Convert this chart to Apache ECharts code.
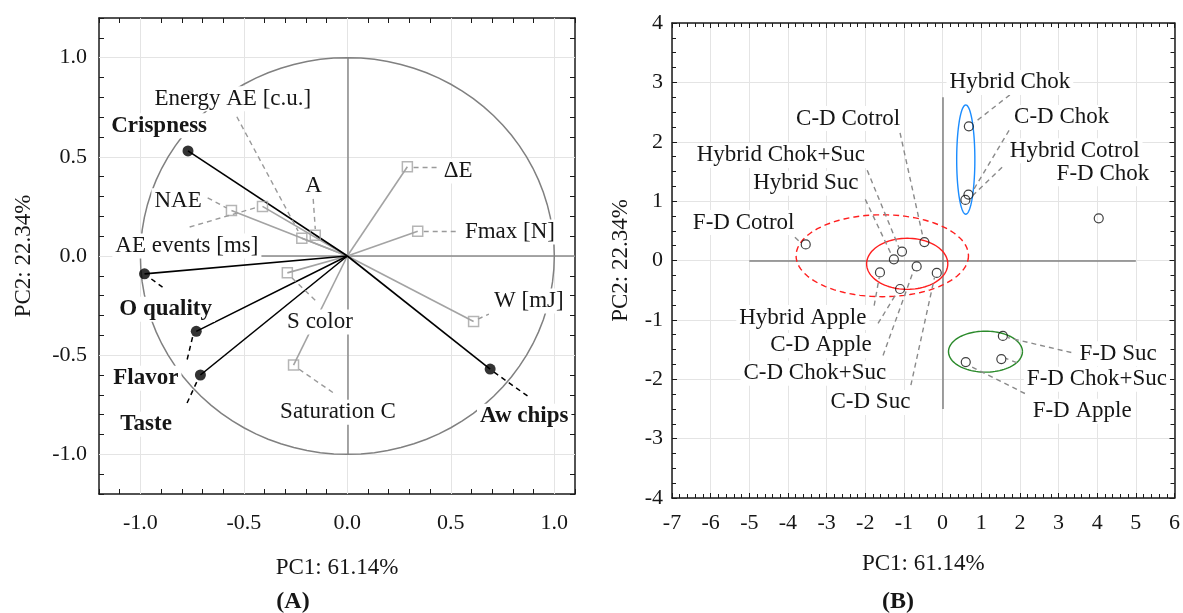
<!DOCTYPE html>
<html>
<head>
<meta charset="utf-8">
<script src="https://cdn.jsdelivr.net/npm/echarts@6/dist/echarts.min.js"></script>
<style>
  html, body { margin: 0; background: #fff; }
  #chart { width: 1183px; height: 613px; }
</style>
</head>
<body>
<div id="chart"></div>
<script>
// ---- (A) loadings: sensory attributes (black) ----
const sensoryNames = ['Crispness', 'O quality', 'Flavor', 'Taste', 'Aw chips']
const sensoryPC1 = [-0.77, -0.98, -0.73, -0.71, 0.69]
const sensoryPC2 = [0.53, -0.09, -0.38, -0.60, -0.57]

// ---- (A) loadings: instrumental attributes (grey) ----
const instrNames = ['Energy AE [c.u.]', 'A', 'ΔE', 'NAE', 'Fmax [N]', 'AE events [ms]', 'S color', 'W [mJ]', 'Saturation C']
const instrPC1 = [-0.22, -0.155, 0.29, -0.56, 0.34, -0.41, -0.29, 0.61, -0.26]
const instrPC2 = [0.09, 0.105, 0.45, 0.23, 0.125, 0.25, -0.085, -0.33, -0.55]

// label anchors (text start, middle) in PC units
const sensoryLabelX = [-1.141, -1.102, -1.131, -1.097, 0.641]
const sensoryLabelY = [0.657, -0.268, -0.616, -0.848, -0.808]
const instrLabelX = [-0.932, -0.204, 0.466, -0.932, 0.568, -1.121, -0.291, 0.709, -0.325]
const instrLabelY = [0.793, 0.354, 0.429, 0.278, 0.121, 0.051, -0.333, -0.227, -0.788]

// dashed leaders [x1, y1, x2, y2]
const sensoryLeaders = [
  null,
  [-0.947, -0.116, -0.893, -0.157],
  [-0.748, -0.409, -0.777, -0.535],
  [-0.728, -0.636, -0.777, -0.747],
  [0.709, -0.586, 0.879, -0.712],
]
const instrLeaders = [
  [-0.534, 0.702, -0.238, 0.126],
  [-0.165, 0.288, -0.155, 0.136],
  [0.320, 0.449, 0.437, 0.449],
  [-0.675, 0.293, -0.583, 0.242],
  [0.369, 0.126, 0.539, 0.126],
  [-0.762, 0.146, -0.432, 0.247],
  [-0.267, -0.111, -0.146, -0.232],
  [0.631, -0.318, 0.684, -0.293],
  [-0.233, -0.571, -0.058, -0.697],
]
const gridA = [-1, -0.5, 0, 0.5, 1]

// ---- (B) scores ----
const samples = ['F-D Cotrol', 'Hybrid Suc', 'Hybrid Chok+Suc', 'C-D Cotrol', 'C-D Chok+Suc', 'C-D Suc',
  'Hybrid Apple', 'C-D Apple', 'Hybrid Chok', 'C-D Chok', 'Hybrid Cotrol', 'F-D Chok',
  'F-D Suc', 'F-D Chok+Suc', 'F-D Apple']
const scorePC1 = [-3.54, -1.26, -1.05, -0.47, -0.67, -0.15, -1.62, -1.10, 0.68, 0.67, 0.59, 4.04, 1.56, 1.52, 0.60]
const scorePC2 = [0.27, 0.02, 0.15, 0.31, -0.10, -0.21, -0.20, -0.48, 2.26, 1.11, 1.02, 0.71, -1.27, -1.66, -1.71]

const sampleLabelX = [-6.46, -4.90, -6.36, -3.79, -5.15, -2.90, -5.26, -4.46, 0.18, 1.85, 1.74, 2.95, 3.54, 2.18, 2.33]
const sampleLabelY = [0.64, 1.30, 1.77, 2.39, -1.90, -2.39, -0.96, -1.43, 3.00, 2.41, 1.85, 1.46, -1.57, -2.00, -2.54]
const sampleLeaders = [
  [-3.82, 0.39, -3.67, 0.30],
  [-2.00, 1.03, -1.31, 0.08],
  [-1.95, 1.52, -1.13, 0.22],
  [-1.10, 2.15, -0.51, 0.40],
  [-1.54, -1.60, -0.74, -0.15],
  [-0.82, -2.10, -0.21, -0.29],
  [-1.77, -0.76, -1.64, -0.29],
  [-1.67, -1.06, -1.18, -0.54],
  [1.74, 2.79, 0.82, 2.32],
  [1.72, 2.19, 0.79, 1.18],
  [1.54, 1.57, 0.77, 1.09],
  null,
  [3.33, -1.55, 1.69, -1.30],
  [1.92, -1.72, 1.64, -1.65],
  [2.13, -2.24, 0.72, -1.78],
]

// group ellipses: centre x, centre y, radius x, radius y
const ellipseCX = [-0.915, -1.56, 0.60, 1.11]
const ellipseCY = [-0.056, 0.08, 1.70, -1.535]
const ellipseRX = [1.05, 2.23, 0.235, 0.957]
const ellipseRY = [0.43, 0.69, 0.92, 0.345]
const ellipseColor = ['#ff1f1f', '#ff1f1f', '#1a8cff', '#2b8a2b']
const ellipseDashed = [false, true, false, false]

const FONT = '"Liberation Serif", "Times New Roman", serif'
const INK = '#161616'
const chart = echarts.init(document.getElementById('chart'))

const leaderCoords = (list) => list.filter(Boolean).map((l) => [[l[0], l[1]], [l[2], l[3]]])

const halfStep = (v) => Math.abs(v * 2 - Math.round(v * 2)) < 1e-6

const textSeries = (names, xs, ys, axis, weight) => ({
  type: 'custom',
  xAxisIndex: axis,
  yAxisIndex: axis,
  z: 10,
  silent: true,
  clip: false,
  data: names.map((_, i) => [xs[i], ys[i]]),
  renderItem: (params, api) => {
    const p = api.coord([api.value(0), api.value(1)])
    return {
      type: 'text',
      x: p[0] - 3,
      y: p[1],
      style: {
        text: names[params.dataIndex],
        font: `${weight} 23px ${FONT}`,
        fill: INK,
        align: 'left',
        verticalAlign: 'middle',
        backgroundColor: '#fff',
        padding: [1, 3],
      },
    }
  },
})

const ringPoints = (c, s) => {
  const pts = []
  for (let i = 0; i <= 96; i += 1) {
    const a = (i / 96) * Math.PI * 2
    pts.push([c[0] + s[0] * Math.cos(a), c[1] + s[1] * Math.sin(a)])
  }
  return pts
}

const axisBase = {
  axisLine: { onZero: false, lineStyle: { color: '#1a1a1a', width: 1.5 } },
  axisTick: { inside: true, length: 5, lineStyle: { color: '#1a1a1a', width: 1 } },
  splitLine: { show: false },
}
const labelStyle = { color: INK, fontFamily: FONT, fontSize: 22 }

const xA = { min: -1.2, max: 1.1, interval: 0.1 }
const yA = { min: -1.2, max: 1.2, interval: 0.1 }
const xB = { min: -7, max: 6, interval: 1 }
const yB = { min: -4, max: 4, interval: 1 }

const options = {
  animation: false,
  backgroundColor: '#fff',
  grid: [
    { left: 99, top: 18, width: 476, height: 476 },
    { left: 672, top: 23, width: 506, height: 475 },
  ],
  xAxis: [
    {
      ...axisBase, ...xA, type: 'value', gridIndex: 0, position: 'bottom',
      name: 'PC1: 61.14%', nameLocation: 'middle', nameGap: 62,
      nameTextStyle: { ...labelStyle, fontSize: 23 },
      axisLabel: { ...labelStyle, margin: 18, formatter: (v) => (halfStep(v) ? v.toFixed(1) : '') },
    },
    { ...axisBase, ...xA, type: 'value', gridIndex: 0, position: 'top', axisLabel: { show: false } },
    {
      ...axisBase, ...xB, type: 'value', gridIndex: 1, position: 'bottom',
      name: 'PC1: 61.14%', nameLocation: 'middle', nameGap: 54,
      nameTextStyle: { ...labelStyle, fontSize: 23 },
      axisLabel: { ...labelStyle, margin: 14 },
      minorTick: { show: true, splitNumber: 5, length: 4, lineStyle: { color: '#1a1a1a' } },
      splitLine: { show: true, lineStyle: { color: '#e4e4e4', width: 1 } },
    },
    {
      ...axisBase, ...xB, type: 'value', gridIndex: 1, position: 'top', axisLabel: { show: false },
      minorTick: { show: true, splitNumber: 5, length: 4, lineStyle: { color: '#1a1a1a' } },
    },
  ],
  yAxis: [
    {
      ...axisBase, ...yA, type: 'value', gridIndex: 0, position: 'left',
      name: 'PC2: 22.34%', nameLocation: 'middle', nameGap: 64, nameRotate: 90,
      nameTextStyle: { ...labelStyle, fontSize: 23 },
      axisLabel: { ...labelStyle, margin: 12, formatter: (v) => (halfStep(v) ? v.toFixed(1) : '') },
    },
    { ...axisBase, ...yA, type: 'value', gridIndex: 0, position: 'right', axisLabel: { show: false } },
    {
      ...axisBase, ...yB, type: 'value', gridIndex: 1, position: 'left',
      name: 'PC2: 22.34%', nameLocation: 'middle', nameGap: 40, nameRotate: 90,
      nameTextStyle: { ...labelStyle, fontSize: 23 },
      axisLabel: { ...labelStyle, margin: 9 },
      minorTick: { show: true, splitNumber: 4, length: 4, lineStyle: { color: '#1a1a1a' } },
      splitLine: { show: true, lineStyle: { color: '#e4e4e4', width: 1 } },
    },
    {
      ...axisBase, ...yB, type: 'value', gridIndex: 1, position: 'right', axisLabel: { show: false },
      minorTick: { show: true, splitNumber: 4, length: 4, lineStyle: { color: '#1a1a1a' } },
    },
  ],
  graphic: [
    { type: 'text', x: 293, y: 602, style: { text: '(A)', font: `bold 24px ${FONT}`, fill: INK, align: 'center', verticalAlign: 'middle' } },
    { type: 'text', x: 898, y: 602, style: { text: '(B)', font: `bold 24px ${FONT}`, fill: INK, align: 'center', verticalAlign: 'middle' } },
  ],
  series: [
    // ----- panel A -----
    {
      type: 'lines', coordinateSystem: 'cartesian2d', xAxisIndex: 0, yAxisIndex: 0, z: 1, silent: true,
      lineStyle: { color: '#e4e4e4', width: 1, opacity: 1 },
      data: [
        ...gridA.map((v) => ({ coords: [[v, -1.2], [v, 1.2]] })),
        ...gridA.map((v) => ({ coords: [[-1.2, v], [1.1, v]] })),
      ],
    },
    {
      type: 'lines', coordinateSystem: 'cartesian2d', xAxisIndex: 0, yAxisIndex: 0, z: 2, silent: true,
      lineStyle: { color: '#8a8a8a', width: 1.5, opacity: 1 },
      data: [{ coords: [[0, -1], [0, 1]] }, { coords: [[-1, 0], [1.1, 0]] }],
    },
    {
      type: 'custom', xAxisIndex: 0, yAxisIndex: 0, z: 2, silent: true,
      data: [[0, 0, 1, 1]],
      renderItem: (params, api) => ({
        type: 'polyline',
        shape: { points: ringPoints(api.coord([api.value(0), api.value(1)]), api.size([api.value(2), api.value(3)])) },
        style: { stroke: '#808080', lineWidth: 1.5, fill: 'none' },
      }),
    },
    {
      type: 'lines', coordinateSystem: 'cartesian2d', xAxisIndex: 0, yAxisIndex: 0, z: 3, silent: true,
      lineStyle: { color: '#a3a3a3', width: 1.6, opacity: 1 },
      data: instrNames.map((_, i) => ({ coords: [[0, 0], [instrPC1[i], instrPC2[i]]] })),
    },
    {
      type: 'lines', coordinateSystem: 'cartesian2d', xAxisIndex: 0, yAxisIndex: 0, z: 3, silent: true,
      lineStyle: { color: '#000', width: 1.6, opacity: 1 },
      data: sensoryNames.map((_, i) => ({ coords: [[0, 0], [sensoryPC1[i], sensoryPC2[i]]] })),
    },
    {
      type: 'lines', coordinateSystem: 'cartesian2d', xAxisIndex: 0, yAxisIndex: 0, z: 3, silent: true,
      lineStyle: { color: '#9a9a9a', width: 1.4, type: [5, 4], opacity: 1 },
      data: leaderCoords(instrLeaders).map((c) => ({ coords: c })),
    },
    {
      type: 'lines', coordinateSystem: 'cartesian2d', xAxisIndex: 0, yAxisIndex: 0, z: 3, silent: true,
      lineStyle: { color: '#000', width: 1.5, type: [5, 4], opacity: 1 },
      data: leaderCoords(sensoryLeaders).map((c) => ({ coords: c })),
    },
    {
      type: 'scatter', xAxisIndex: 0, yAxisIndex: 0, z: 12, silent: true,
      symbol: 'rect', symbolSize: 10,
      itemStyle: { color: 'rgba(0,0,0,0)', borderColor: '#a3a3a3', borderWidth: 1.5 },
      data: instrNames.map((_, i) => [instrPC1[i], instrPC2[i]]),
    },
    {
      type: 'scatter', xAxisIndex: 0, yAxisIndex: 0, z: 12, silent: true,
      symbol: 'circle', symbolSize: 11,
      itemStyle: { color: '#000' },
      data: sensoryNames.map((_, i) => [sensoryPC1[i], sensoryPC2[i]]),
    },
    textSeries(instrNames, instrLabelX, instrLabelY, 0, 'normal'),
    textSeries(sensoryNames, sensoryLabelX, sensoryLabelY, 0, 'bold'),

    // ----- panel B -----
    {
      type: 'lines', coordinateSystem: 'cartesian2d', xAxisIndex: 2, yAxisIndex: 2, z: 2, silent: true,
      lineStyle: { color: '#808080', width: 1.5, opacity: 1 },
      data: [{ coords: [[-5, 0], [5, 0]] }, { coords: [[0, -2.5], [0, 2.75]] }],
    },
    {
      type: 'custom', xAxisIndex: 2, yAxisIndex: 2, z: 3, silent: true,
      data: ellipseCX.map((_, i) => [ellipseCX[i], ellipseCY[i], ellipseRX[i], ellipseRY[i]]),
      renderItem: (params, api) => ({
        type: 'polyline',
        shape: { points: ringPoints(api.coord([api.value(0), api.value(1)]), api.size([api.value(2), api.value(3)])) },
        style: {
          stroke: ellipseColor[params.dataIndex],
          lineWidth: 1.4,
          fill: 'none',
          lineDash: ellipseDashed[params.dataIndex] ? [6, 4] : null,
        },
      }),
    },
    {
      type: 'lines', coordinateSystem: 'cartesian2d', xAxisIndex: 2, yAxisIndex: 2, z: 3, silent: true,
      lineStyle: { color: '#8a8a8a', width: 1.4, type: [5, 4], opacity: 1 },
      data: leaderCoords(sampleLeaders).map((c) => ({ coords: c })),
    },
    {
      type: 'scatter', xAxisIndex: 2, yAxisIndex: 2, z: 12, silent: true,
      symbol: 'circle', symbolSize: 9,
      itemStyle: { color: 'rgba(0,0,0,0)', borderColor: '#111', borderWidth: 1.2 },
      data: samples.map((_, i) => [scorePC1[i], scorePC2[i]]),
    },
    textSeries(samples, sampleLabelX, sampleLabelY, 2, 'normal'),
  ],
}

chart.setOption(options)
</script>
</body>
</html>
